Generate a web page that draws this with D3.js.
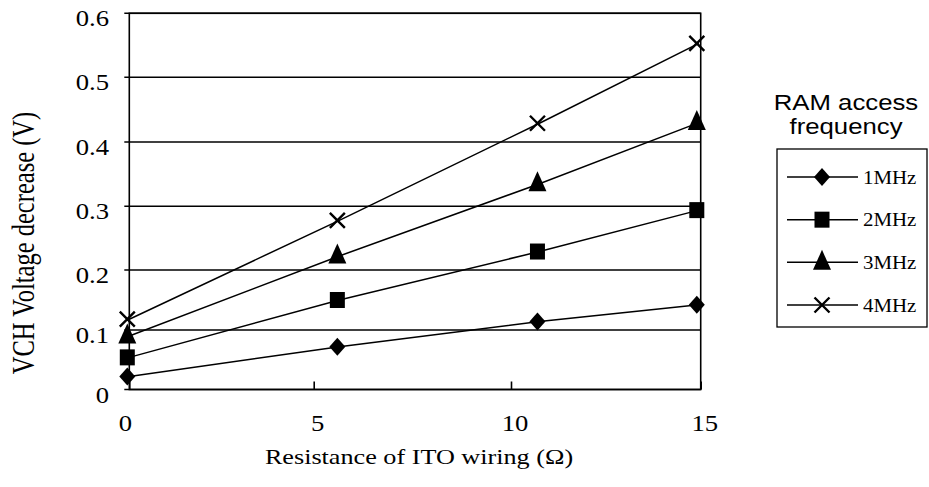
<!DOCTYPE html>
<html lang="en">
<head>
<meta charset="UTF-8">
<title>VCH Voltage decrease</title>
<script src="https://cdn.jsdelivr.net/npm/d3@7"></script>
<style>
    body { margin: 0; background: #fff; }
</style>
</head>
<body>
<script>
    // data
    var resistance = [0, 5.65, 10.75, 14.95];
    var seriesNames = ["1MHz", "2MHz", "3MHz", "4MHz"];
    var v1MHz = [0.022, 0.072, 0.114, 0.142];
    var v2MHz = [0.054, 0.150, 0.229, 0.294];
    var v3MHz = [0.090, 0.222, 0.335, 0.430];
    var v4MHz = [0.118, 0.278, 0.429, 0.553];
    var markerTypes = ["diamond", "square", "triangle", "cross"];
    var yTicks = [0, 0.1, 0.2, 0.3, 0.4, 0.5, 0.6];
    var yTickLabels = ["0", "0.1", "0.2", "0.3", "0.4", "0.5", "0.6"];
    var xTicks = [0, 5, 10, 15];
    var xTickLabels = ["0", "5", "10", "15"];

    var series = [v1MHz, v2MHz, v3MHz, v4MHz];

    var w = 929, h = 487;
    var serif = "'Liberation Serif', 'Times New Roman', serif";
    var sans = "'Liberation Sans', Arial, sans-serif";

    var svg = d3.select("body").append("svg")
        .attr("width", w)
        .attr("height", h);

    // the scanned axes are not quite even, so both scales are piecewise
    var x = d3.scaleLinear().domain(xTicks).range([129.3, 313.7, 511, 700.7]);
    var y = d3.scaleLinear().domain(yTicks).range([389.5, 330, 270, 206.3, 142, 77.3, 13.3]);

    // text in the picture is a little wider than normal, sx stretches it sideways
    function label(g, str, px, py, anchor, size, family, sx) {
        return g.append("g")
            .attr("transform", "translate(" + px + "," + py + ") scale(" + sx + ",1)")
            .append("text")
            .attr("text-anchor", anchor)
            .attr("font-family", family)
            .attr("font-size", size)
            .attr("fill", "#000")
            .text(str);
    }

    // grid lines
    svg.append("g").selectAll("line")
        .data(yTicks)
        .enter()
        .append("line")
        .attr("x1", x(0) - 5)
        .attr("x2", x(15))
        .attr("y1", function (d) { return y(d); })
        .attr("y2", function (d) { return y(d); })
        .attr("stroke", "#000")
        .attr("stroke-width", 1.6);

    // frame
    svg.append("rect")
        .attr("x", x(0))
        .attr("y", y(0.6))
        .attr("width", x(15) - x(0))
        .attr("height", y(0) - y(0.6))
        .attr("fill", "none")
        .attr("stroke", "#000")
        .attr("stroke-width", 1.6);

    // x axis ticks point inward
    var xAxis = d3.axisBottom(x).tickValues(xTicks).tickSize(-8).tickFormat("");
    var gx = svg.append("g")
        .attr("transform", "translate(0," + y(0) + ")")
        .call(xAxis);
    gx.select(".domain").remove();
    gx.selectAll("line").attr("stroke", "#000").attr("stroke-width", 1.6);

    var labels = svg.append("g");
    yTicks.forEach(function (d, i) {
        label(labels, yTickLabels[i], 109, y(d) + 13, "end", 23, serif, 1.16);
    });
    xTicks.forEach(function (d, i) {
        var shift = i === 0 ? -4 : 4;
        label(labels, xTickLabels[i], x(d) + shift, 431, "middle", 23, serif, 1.16);
    });

    // axis titles
    label(labels, "Resistance of ITO wiring (\u03A9)", 419, 464, "middle", 22, serif, 1.19);
    svg.append("g")
        .attr("transform", "translate(34,243) scale(1.3,1) rotate(-90)")
        .append("text")
        .attr("text-anchor", "middle")
        .attr("font-family", serif)
        .attr("font-size", 24.5)
        .text("VCH Voltage decrease (V)");

    // markers
    function marker(g, type) {
        if (type === "diamond") {
            g.append("path").attr("d", "M0,-9L8,0L0,9L-8,0Z").attr("fill", "#000");
        } else if (type === "square") {
            g.append("rect").attr("x", -7.5).attr("y", -8).attr("width", 15).attr("height", 16).attr("fill", "#000");
        } else if (type === "triangle") {
            g.append("path").attr("d", "M0,-12.5L9,7.5L-9,7.5Z").attr("fill", "#000");
        } else {
            g.append("path").attr("d", "M-7.5,-7.5L7.5,7.5M-7.5,7.5L7.5,-7.5")
                .attr("stroke", "#000").attr("stroke-width", 2.4).attr("fill", "none");
        }
    }

    var line = d3.line()
        .x(function (d, i) { return x(resistance[i]); })
        .y(function (d) { return y(d); });

    series.forEach(function (vals, s) {
        svg.append("path")
            .datum(vals)
            .attr("d", line)
            .attr("fill", "none")
            .attr("stroke", "#000")
            .attr("stroke-width", 1.5);
        vals.forEach(function (v, i) {
            var g = svg.append("g")
                .attr("transform", "translate(" + (x(resistance[i]) - 2) + "," + y(v) + ")");
            marker(g, markerTypes[s]);
        });
    });

    // legend
    label(svg, "RAM access", 846, 110, "middle", 22, sans, 1.17);
    label(svg, "frequency", 846, 134, "middle", 22, sans, 1.17);

    svg.append("rect")
        .attr("x", 777)
        .attr("y", 149)
        .attr("width", 150)
        .attr("height", 178)
        .attr("fill", "none")
        .attr("stroke", "#000")
        .attr("stroke-width", 1.3);

    var legendY = d3.scalePoint().domain(seriesNames).range([177, 305]);
    seriesNames.forEach(function (name, s) {
        var ly = legendY(name);
        svg.append("line")
            .attr("x1", 787).attr("x2", 858)
            .attr("y1", ly).attr("y2", ly)
            .attr("stroke", "#000").attr("stroke-width", 1.5);
        marker(svg.append("g").attr("transform", "translate(822," + ly + ")"), markerTypes[s]);
        label(svg, name, 863, ly + 6.5, "start", 19, serif, 1.1);
    });
</script>
</body>
</html>
